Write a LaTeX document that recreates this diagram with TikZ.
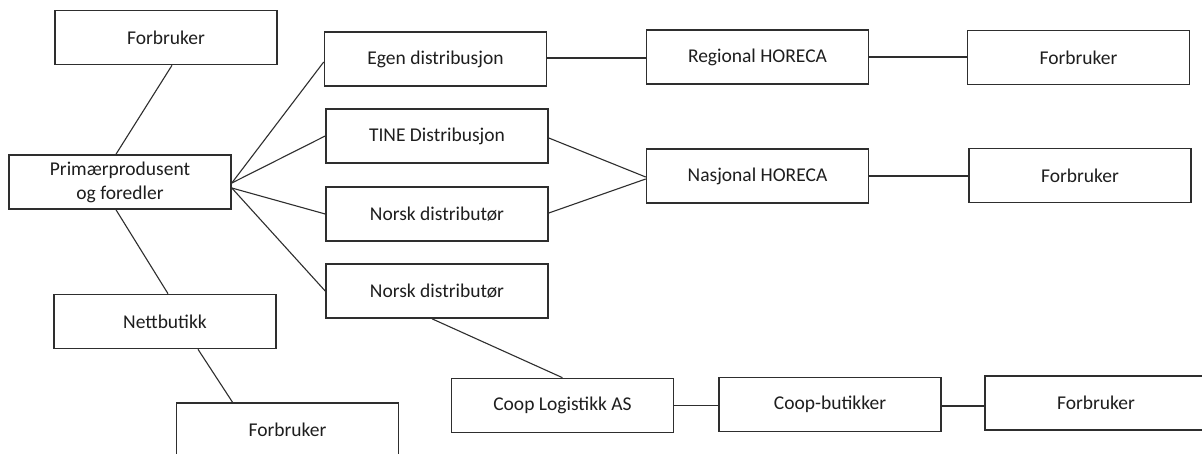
\documentclass[tikz,border=0pt]{standalone}
\usepackage{fontspec}
\setmainfont{Carlito}
\definecolor{boxline}{HTML}{2E2E2E}
\definecolor{txt}{HTML}{1E1E1E}
\tikzset{
  box/.style={draw=boxline, line width=1.6pt, rectangle, minimum width=222pt, minimum height=54pt,
    inner sep=0pt, text=txt, align=center, font=\fontsize{19.5}{24}\selectfont},
  link/.style={draw=boxline, line width=1.1pt},
  hlink/.style={draw=boxline, line width=1.5pt}
}
\begin{document}
\begin{tikzpicture}[x=1pt,y=-1pt]
\useasboundingbox (0,0) rectangle (1202,454);
\clip (0,0) rectangle (1202,454);
\fill[white] (0,0) rectangle (1202,454);

% left column
\node[box] (fbTL) at (166,37.5) {Forbruker};
\node[box] (prim) at (120,182) {Primærprodusent\\og foredler};
\node[box] (nett) at (165,321.5) {Nettbutikk};
\node[box] (fbBL) at (287.5,430) {Forbruker};

% distribution column
\node[box] (egen) at (435.5,59) {Egen distribusjon};
\node[box] (tine) at (437,136) {TINE Distribusjon};
\node[box] (norsk1) at (437,214) {Norsk distributør};
\node[box] (norsk2) at (437,291) {Norsk distributør};

% HORECA column
\node[box] (reg) at (757.5,57) {Regional HORECA};
\node[box] (nas) at (757.5,176) {Nasjonal HORECA};

% consumers right
\node[box] (fbRT) at (1078.5,57.5) {Forbruker};
\node[box] (fbRM) at (1080,175.5) {Forbruker};

% Coop row
\node[box] (coop) at (562.5,405.5) {Coop Logistikk AS};
\node[box] (coopb) at (830,404.5) {Coop-butikker};
\node[box] (fbBR) at (1096,403) {Forbruker};

% connectors
\draw[link] ([xshift=6pt]fbTL.south) -- ([xshift=-4pt]prim.north);
\draw[link] ([xshift=-4pt]prim.south) -- ([xshift=3pt]nett.north);
\draw[link] ([xshift=33pt]nett.south) -- ([xshift=-55pt]fbBL.north);

\coordinate (pA) at ([yshift=-1pt]prim.east);
\coordinate (pB) at ([yshift=-6pt]prim.east);
\draw[link] (pA) -- ([yshift=-3pt]egen.west);
\draw[link] (pA) -- (tine.west);
\draw[link] (pB) -- (norsk1.west);
\draw[link] (pB) -- (norsk2.west);

\draw[hlink] ([yshift=1pt]egen.east) -- ([yshift=-1pt]reg.west);
\draw[hlink] (reg.east) -- (reg.east -| fbRT.west);
\draw[link] ([yshift=-2pt]tine.east) -- ([yshift=-1pt]nas.west);
\draw[link] ([yshift=1pt]norsk1.east) -- ([yshift=-3pt]nas.west);
\draw[hlink] (nas.east) -- (nas.east -| fbRM.west);

\draw[link] ([xshift=-5pt]norsk2.south) -- (coop.north);
\draw[hlink] (coop.east) -- (coop.east -| coopb.west);
\draw[hlink] ([yshift=-1.5pt]coopb.east) -- ([yshift=-1.5pt]coopb.east -| fbBR.west);
\end{tikzpicture}
\end{document}
